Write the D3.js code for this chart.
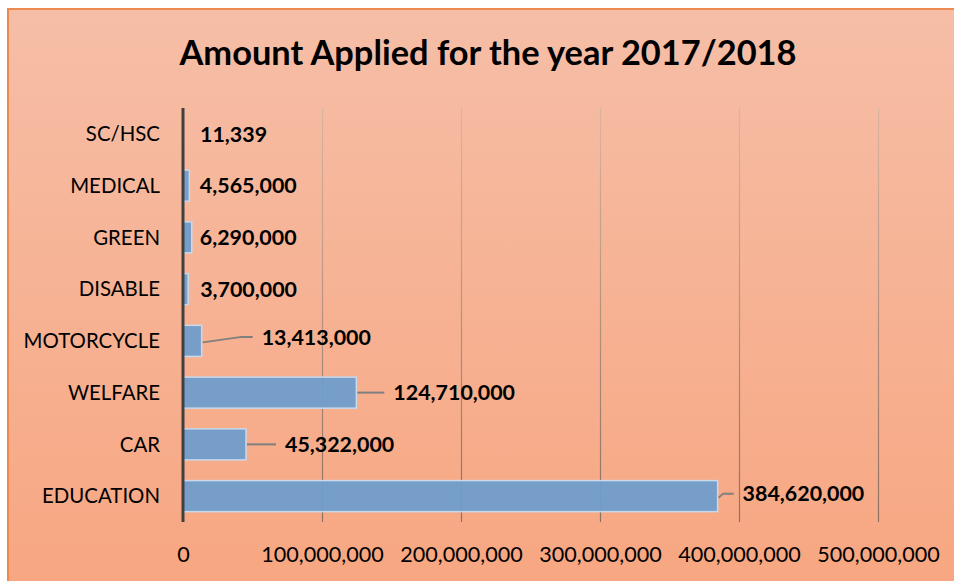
<!DOCTYPE html>
<html>
<head>
<meta charset="utf-8">
<script src="https://cdn.jsdelivr.net/npm/d3@7"></script>
<style>
  html, body { margin: 0; padding: 0; background: #ffffff; }
  svg { display: block; }
</style>
</head>
<body>
<svg id="chart" width="954" height="581"></svg>
<script>
// Amount applied per loan category, 2017/2018
const categories = ["SC/HSC", "MEDICAL", "GREEN", "DISABLE", "MOTORCYCLE", "WELFARE", "CAR", "EDUCATION"];
const amounts = [11339, 4565000, 6290000, 3700000, 13413000, 124710000, 45322000, 384620000];
const tickValues = [0, 100000000, 200000000, 300000000, 400000000, 500000000];
const title = "Amount Applied for the year 2017/2018";

// Label placement: horizontal gap from bar end, vertical nudge
const labelGap = [17, 10.5, 8, 12, 60, 37, 39, 25];
const labelNudge = [0, 0, 0, 0, -4, 0, 0, -2.5];

const W = 954, H = 581;
const FONT = "Lato, 'Open Sans', sans-serif";
const svg = d3.select("#chart");
const defs = svg.append("defs");

const bg = defs.append("linearGradient").attr("id", "bg")
  .attr("x1", 0).attr("y1", 0).attr("x2", 0).attr("y2", 1);
bg.append("stop").attr("offset", "0%").attr("stop-color", "#f6bea7");
bg.append("stop").attr("offset", "100%").attr("stop-color", "#f7a680");

const plot = { left: 183, right: 878, top: 108, bottom: 522 };

const gridGrad = defs.append("linearGradient").attr("id", "gridGrad")
  .attr("gradientUnits", "userSpaceOnUse")
  .attr("x1", 0).attr("y1", plot.top).attr("x2", 0).attr("y2", plot.bottom);
gridGrad.append("stop").attr("offset", "0%").attr("stop-color", "#d9b4a2");
gridGrad.append("stop").attr("offset", "100%").attr("stop-color", "#8f6f60");

// panel
svg.append("rect").attr("x", 0).attr("y", 0).attr("width", W).attr("height", H).attr("fill", "#ffffff");
svg.append("rect").attr("x", 8).attr("y", 9).attr("width", W + 10).attr("height", H + 10)
  .attr("fill", "url(#bg)").attr("stroke", "#ee8a4f").attr("stroke-width", 2);

const x = d3.scaleLinear().domain([0, 500000000]).range([plot.left, plot.right]);
const y = d3.scaleBand().domain(categories).range([plot.top, plot.bottom]).paddingInner(0.4).paddingOuter(0.2);

// title
svg.append("text")
  .attr("x", 488).attr("y", 65)
  .attr("text-anchor", "middle")
  .attr("font-family", FONT)
  .attr("font-weight", 700)
  .attr("font-size", 34.4)
  .attr("fill", "#000")
  .text(title);

// vertical gridlines
svg.append("g").selectAll("line")
  .data(tickValues.filter(d => d > 0))
  .join("line")
  .attr("x1", d => x(d) + 0.5).attr("x2", d => x(d) + 0.5)
  .attr("y1", plot.top).attr("y2", plot.bottom)
  .attr("stroke", "url(#gridGrad)").attr("stroke-width", 1.2);

// bars
const data = categories.map((c, i) => ({ c, v: amounts[i], gap: labelGap[i], nudge: labelNudge[i] }));
svg.append("g").selectAll("rect")
  .data(data)
  .join("rect")
  .attr("x", plot.left)
  .attr("y", d => y(d.c))
  .attr("width", d => Math.max(0, x(d.v) - plot.left))
  .attr("height", y.bandwidth())
  .attr("fill", "#6f9dcb")
  .attr("fill-opacity", 0.95)
  .attr("stroke", "#c9d9ec")
  .attr("stroke-width", 1.5);

// category axis line
svg.append("line")
  .attr("x1", plot.left).attr("x2", plot.left)
  .attr("y1", plot.top).attr("y2", plot.bottom)
  .attr("stroke", "#404040").attr("stroke-width", 3);

// category axis labels
const yAxis = d3.axisLeft(y).tickSize(0).tickPadding(23);
const yg = svg.append("g").attr("transform", `translate(${plot.left},0)`).call(yAxis);
yg.select(".domain").remove();
yg.selectAll("text")
  .attr("font-family", FONT)
  .attr("font-size", 20.4)
  .attr("fill", "#000")
  .attr("dy", "0.36em");

// value axis labels
const xAxis = d3.axisBottom(x).tickValues(tickValues).tickSize(0).tickPadding(25)
  .tickFormat(d3.format(","));
const xg = svg.append("g").attr("transform", `translate(0,${plot.bottom})`).call(xAxis);
xg.select(".domain").remove();
xg.selectAll("text")
  .attr("font-family", FONT)
  .attr("font-size", 21.6)
  .attr("fill", "#000");

// leader lines for labels moved away from their bars
const leaders = data.filter(d => d.gap > 20);
svg.append("g").selectAll("path")
  .data(leaders)
  .join("path")
  .attr("d", d => {
    const x0 = x(d.v) + 1, y0 = y(d.c) + y.bandwidth() / 2 + (d.nudge ? 1.5 : 0);
    const x2 = x(d.v) + d.gap - 9, y2 = y(d.c) + y.bandwidth() / 2 + d.nudge;
    if (!d.nudge) return `M${x0},${y0}H${x2}`;
    const xm = x0 + (x2 - x0) * (d.nudge < -3 ? 0.78 : 0.3);
    return `M${x0},${y0}L${xm},${y2}H${x2}`;
  })
  .attr("fill", "none")
  .attr("stroke", "#7f7f7f")
  .attr("stroke-width", 2);

// value labels
svg.append("g").selectAll("text")
  .data(data)
  .join("text")
  .attr("x", d => x(d.v) + d.gap)
  .attr("y", d => y(d.c) + y.bandwidth() / 2 + d.nudge)
  .attr("dy", "0.36em")
  .attr("font-family", FONT)
  .attr("font-weight", 700)
  .attr("font-size", 21.4)
  .attr("fill", "#000")
  .text(d => d3.format(",")(d.v));
</script>
</body>
</html>
